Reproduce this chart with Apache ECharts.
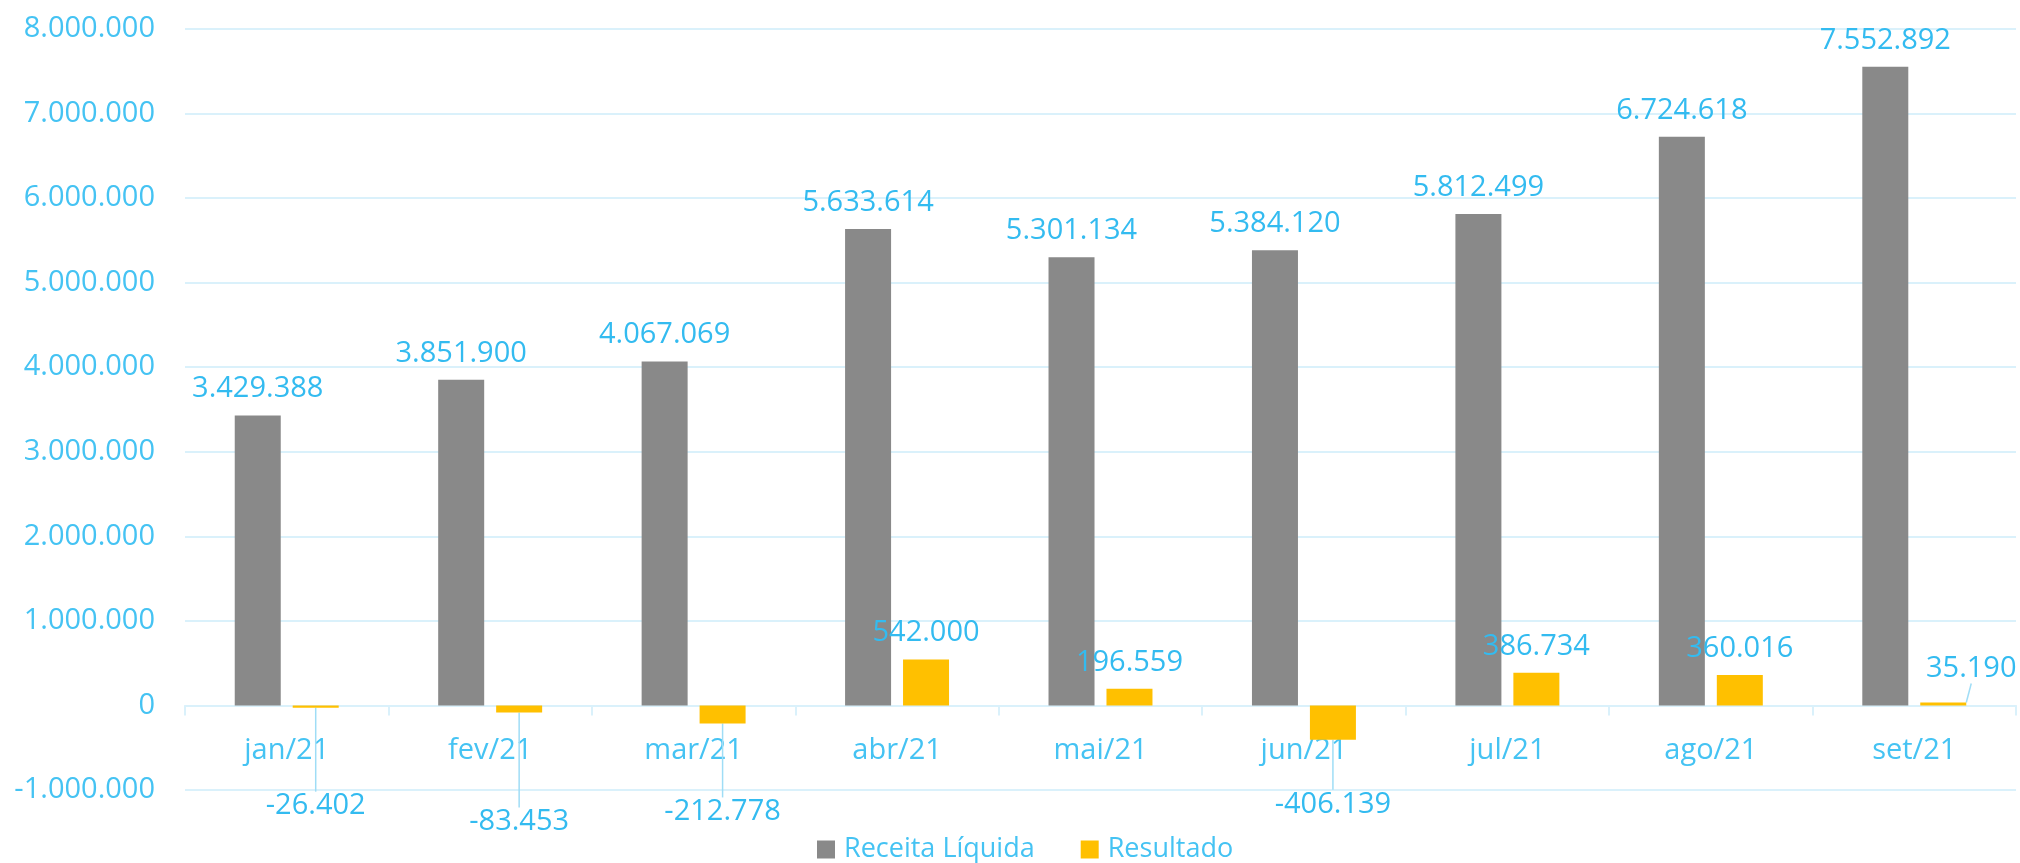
<!DOCTYPE html>
<html>
<head>
<meta charset="utf-8">
<script src="https://cdn.jsdelivr.net/npm/echarts@6/dist/echarts.min.js"></script>
<style>
html,body{margin:0;padding:0;background:#fff;}
#chart{width:2020px;height:863px;}
</style>
</head>
<body>
<div id="chart"></div>
<script>
const categories = ['jan/21','fev/21','mar/21','abr/21','mai/21','jun/21','jul/21','ago/21','set/21'];
const receita = [3429388,3851900,4067069,5633614,5301134,5384120,5812499,6724618,7552892];
const resultado = [-26402,-83453,-212778,542000,196559,-406139,386734,360016,35190];
const yMin = -1000000, yMax = 8000000, yStep = 1000000;

// label nudges (layout only, in px) for the Resultado series
const resShift = [[0,79],[0,90],[0,69],[0,0],[0,0],[0,45],[0,0],[0,0],[28,-7]];

const FONT = 'Open Sans';
const LABEL = '#33BBF0';
const AXIS = '#45C3F3';
const GRID = '#DAF1FB';

function fmt(v){
  const s = String(Math.abs(Math.round(v))).replace(/\B(?=(\d{3})+(?!\d))/g, '.');
  return (v < 0 ? '-' : '') + s;
}

const chart = echarts.init(document.getElementById('chart'), null, {renderer:'canvas'});
chart.setOption({
  animation:false,
  backgroundColor:'#fff',
  textStyle:{fontFamily:FONT},
  grid:{left:185,right:4,top:29,bottom:73,containLabel:false},
  legend:{
    left:812, top:831,
    icon:'rect', itemWidth:18, itemHeight:18, itemGap:46,
    textStyle:{fontFamily:FONT,fontSize:27,color:AXIS,padding:[0,0,0,4]},
    data:['Receita Líquida','Resultado']
  },
  xAxis:{
    type:'category', data:categories,
    axisLine:{onZero:true,lineStyle:{color:GRID,width:2}},
    axisTick:{show:true,length:10,lineStyle:{color:GRID,width:2}},
    axisLabel:{fontFamily:FONT,fontSize:29,color:AXIS,margin:-54}
  },
  yAxis:{
    type:'value', min:yMin, max:yMax, interval:yStep,
    axisLine:{show:false}, axisTick:{show:false},
    splitLine:{lineStyle:{color:GRID,width:2}},
    axisLabel:{fontFamily:FONT,fontSize:29,color:AXIS,margin:30,formatter:fmt}
  },
  series:[
    {
      name:'Receita Líquida', type:'bar', data:receita,
      barWidth:46, barGap:'26%',
      itemStyle:{color:'#898989'},
      label:{show:true,position:'top',distance:12,fontFamily:FONT,fontSize:29,color:LABEL,formatter:p=>fmt(p.value)}
    },
    {
      name:'Resultado', type:'bar',
      data:resultado.map((v,i)=>({
        value:v,
        label:{position: v<0 ? 'bottom' : 'top', distance: v<0 ? 5 : 12},
        labelLine:{show: resShift[i][0]!==0 || resShift[i][1]!==0}
      })),
      barWidth:46,
      itemStyle:{color:'#FFC000'},
      label:{show:true,position:'top',distance:12,fontFamily:FONT,fontSize:29,color:LABEL,formatter:p=>fmt(p.value)},
      labelLine:{show:false,lineStyle:{color:'#9FDDF6',width:1.5}},
      labelLayout:function(p){
        const s = resShift[p.dataIndex] || [0,0];
        return {dx:s[0], dy:s[1]};
      }
    }
  ]
});
</script>
</body>
</html>
